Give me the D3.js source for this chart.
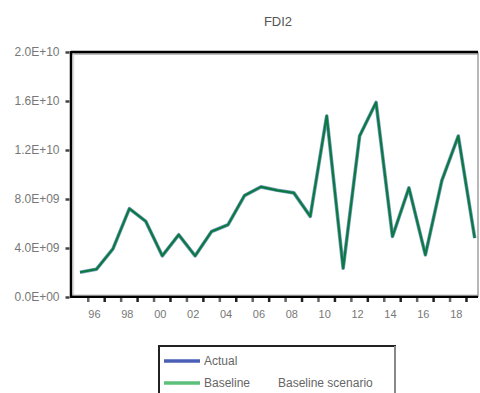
<!DOCTYPE html>
<html>
<head>
<meta charset="utf-8">
<script src="https://cdn.jsdelivr.net/npm/d3@7"></script>
<style>
  body { margin: 0; background: #fff; }
  svg { display: block; font-family: Arial, "Liberation Sans", sans-serif; }
</style>
</head>
<body>
<div id="chart"></div>
<script>
// FDI2, annual 1995-2019
const years = d3.range(1995, 2020);
const actual = [2.02e9, 2.27e9, 3.93e9, 7.21e9, 6.17e9, 3.36e9, 5.08e9, 3.36e9, 5.35e9, 5.9e9,
  8.28e9, 8.99e9, 8.71e9, 8.5e9, 6.58e9, 14.78e9, 2.35e9, 13.14e9, 15.88e9, 4.94e9,
  8.91e9, 3.44e9, 9.5e9, 13.14e9, 4.81e9];
const baseline = actual.slice();
const yTicks = [0, 4e9, 8e9, 1.2e10, 1.6e10, 2.0e10];
const yTickLabels = ["0.0E+00", "4.0E+09", "8.0E+09", "1.2E+10", "1.6E+10", "2.0E+10"];
const xLabelYears = d3.range(1996, 2019, 2);

const width = 480, height = 393;
const plotLeft = 71, plotRight = 478, plotTop = 52, plotBottom = 297;

const svg = d3.select("#chart").append("svg")
  .attr("width", width)
  .attr("height", height);

const x = d3.scaleLinear().domain([1994.45, 2019.2]).range([plotLeft, plotRight]);
const y = d3.scaleLinear().domain([0, 2e10]).range([plotBottom, plotTop]);

// title
svg.append("text")
  .attr("x", 278).attr("y", 26)
  .attr("text-anchor", "middle")
  .style("font-size", "13px").style("fill", "#555")
  .text("FDI2");

// frame: grey inner lines, black top/left/bottom
svg.append("line").attr("x1", plotLeft).attr("x2", plotRight).attr("y1", plotTop + 2).attr("y2", plotTop + 2)
  .attr("stroke", "#aaa").attr("stroke-width", 1.5);
svg.append("line").attr("x1", plotLeft + 2.5).attr("x2", plotLeft + 2.5).attr("y1", plotTop).attr("y2", plotBottom)
  .attr("stroke", "#ddd").attr("stroke-width", 1.5);
svg.append("line").attr("x1", plotLeft).attr("x2", plotRight).attr("y1", plotBottom - 1.5).attr("y2", plotBottom - 1.5)
  .attr("stroke", "#888").attr("stroke-width", 1.5);
svg.append("line").attr("x1", plotRight).attr("x2", plotRight).attr("y1", plotTop).attr("y2", plotBottom)
  .attr("stroke", "#888").attr("stroke-width", 1.2);
svg.append("line").attr("x1", plotLeft).attr("x2", plotRight).attr("y1", plotTop).attr("y2", plotTop)
  .attr("stroke", "#000").attr("stroke-width", 2.5);
svg.append("line").attr("x1", plotLeft).attr("x2", plotLeft).attr("y1", plotTop - 1).attr("y2", plotBottom + 1)
  .attr("stroke", "#000").attr("stroke-width", 2.5);
svg.append("line").attr("x1", plotLeft).attr("x2", plotRight).attr("y1", plotBottom).attr("y2", plotBottom)
  .attr("stroke", "#000").attr("stroke-width", 2);

// y axis
const yAxis = d3.axisLeft(y)
  .tickValues(yTicks)
  .tickFormat((d, i) => yTickLabels[i])
  .tickSize(4)
  .tickPadding(6);
const gy = svg.append("g").attr("transform", `translate(${plotLeft - 1.5},0)`).call(yAxis);
gy.select(".domain").remove();
gy.selectAll(".tick line").attr("stroke", "#444").attr("stroke-width", 2.5);
gy.selectAll(".tick text").style("font-size", "12px").style("fill", "#777");

// x ticks between years, labels centred on observations
svg.append("g").selectAll("line")
  .data(d3.range(1995.5, 2019.5, 1))
  .join("line")
  .attr("x1", d => x(d)).attr("x2", d => x(d))
  .attr("y1", plotBottom + 1).attr("y2", plotBottom + 5)
  .attr("stroke", (d, i) => i % 2 ? "#222" : "#666")
  .attr("stroke-width", 2.5);
svg.append("g").selectAll("text")
  .data(xLabelYears)
  .join("text")
  .attr("x", d => x(d) - 2)
  .attr("y", plotBottom + 21)
  .attr("text-anchor", "middle")
  .style("font-size", "11px").style("fill", "#777")
  .text(d => String(d % 100).padStart(2, "0"));

// series
const line = d3.line()
  .x((d, i) => x(years[i]))
  .y(d => y(d));
svg.append("path").datum(actual)
  .attr("d", line)
  .attr("fill", "none").attr("stroke", "#4a78a8").attr("stroke-width", 3.6)
  .attr("stroke-linejoin", "round").attr("opacity", 0.75);
svg.append("path").datum(baseline)
  .attr("d", line)
  .attr("fill", "none").attr("stroke", "#0b7a40").attr("stroke-width", 2.2)
  .attr("stroke-linejoin", "round");

// legend
const lg = svg.append("g");
lg.append("rect")
  .attr("x", 159).attr("y", 346).attr("width", 236).attr("height", 60)
  .attr("fill", "#fff").attr("stroke", "#222").attr("stroke-width", 2);
lg.append("line").attr("x1", 395).attr("x2", 395).attr("y1", 346).attr("y2", 400)
  .attr("stroke", "#888").attr("stroke-width", 2);
const legendItems = [
  { label: "Actual", color: "#4a5fb5", y: 361 },
  { label: "Baseline", color: "#5cbf7a", y: 383 }
];
legendItems.forEach(it => {
  lg.append("line").attr("x1", 164).attr("x2", 200).attr("y1", it.y).attr("y2", it.y)
    .attr("stroke", it.color).attr("stroke-width", 3.5);
  lg.append("text").attr("x", 204).attr("y", it.y + 4)
    .style("font-size", "12px").style("fill", "#666").text(it.label);
});
lg.append("text").attr("x", 278).attr("y", 387)
  .style("font-size", "12px").style("fill", "#666").text("Baseline scenario");
</script>
</body>
</html>
